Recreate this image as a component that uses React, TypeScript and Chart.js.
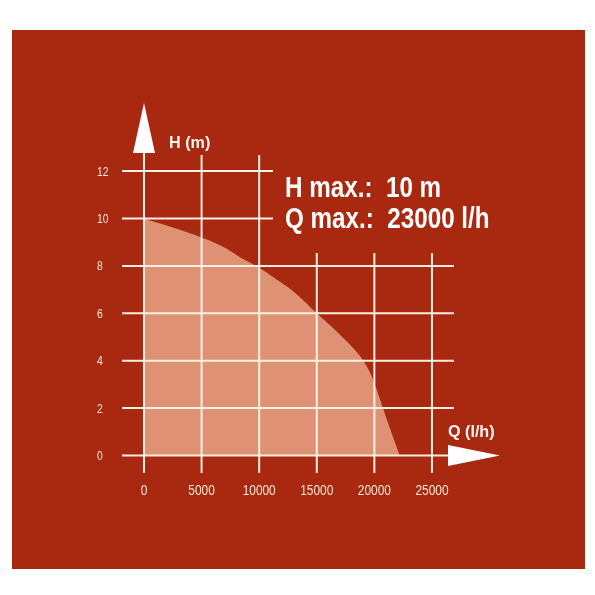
import React, { useEffect, useRef } from "react";
import { Chart, registerables } from "chart.js";

Chart.register(...registerables);

const flowLh = [0, 2500, 5000, 6900, 8300, 9900, 11500, 12700, 13500, 15000, 16400, 17900, 19000, 19800, 20500, 21100, 22200];
const headM = [10, 9.62, 9.2, 8.8, 8.38, 7.95, 7.43, 7.03, 6.7, 6.0, 5.38, 4.66, 4.03, 3.3, 2.35, 1.5, 0];
const xTicks = [0, 5000, 10000, 15000, 20000, 25000];
const yTicks = [0, 2, 4, 6, 8, 10, 12];
const specLines = ["H max.:  10 m", "Q max.:  23000 l/h"];
const xAxisTitle = "Q (l/h)";
const yAxisTitle = "H (m)";

const BG = "#a8290f";
const FILL = "#de9273";
const GRID = "#fbeee2";
const LABEL = "#f6e6d6";
const SANS = '"Liberation Sans", Arial, sans-serif';

function drawNarrow(ctx: any, text: string, x: number, y: number, sx: number, align: string) {
  ctx.save();
  ctx.translate(x, y);
  ctx.scale(sx, 1);
  ctx.textAlign = align;
  ctx.fillText(text, 0, 0);
  ctx.restore();
}

const decor = {
  id: "decor",
  beforeDraw(chart: any) {
    const ctx = chart.ctx;
    ctx.save();
    ctx.fillStyle = "#ffffff";
    ctx.fillRect(0, 0, chart.width, chart.height);
    ctx.fillStyle = BG;
    ctx.fillRect(12, 30, 573, 539);
    ctx.restore();
  },
  afterDatasetsDraw(chart: any) {
    const ctx = chart.ctx;
    const xs = chart.scales.x;
    const ys = chart.scales.y;
    const X = (v: number) => xs.getPixelForValue(v);
    const Y = (v: number) => ys.getPixelForValue(v);
    ctx.save();
    ctx.strokeStyle = GRID;
    ctx.lineWidth = 2;
    // horizontal grid lines
    ys.ticks.forEach((t: any) => {
      const v = t.value;
      const x1 = X(-1910);
      const x2 = v >= 10 ? X(11200) : X(26900);
      ctx.beginPath();
      ctx.moveTo(x1, Y(v));
      ctx.lineTo(x2, Y(v));
      ctx.stroke();
    });
    // vertical grid lines
    xs.ticks.forEach((t: any) => {
      const v = t.value;
      const top = v === 0 ? Y(12.76) : v <= 10000 ? Y(12.68) : Y(8.54);
      ctx.beginPath();
      ctx.moveTo(X(v), top);
      ctx.lineTo(X(v), Y(-0.74));
      ctx.stroke();
    });
    // arrows
    ctx.fillStyle = "#ffffff";
    const ax = X(0);
    ctx.beginPath();
    ctx.moveTo(ax, Y(14.87));
    ctx.lineTo(ax + 11, Y(12.76));
    ctx.lineTo(ax - 11, Y(12.76));
    ctx.closePath();
    ctx.fill();
    const ay = Y(0);
    ctx.beginPath();
    ctx.moveTo(X(30900), ay);
    ctx.lineTo(X(26390), ay - 10.5);
    ctx.lineTo(X(26390), ay + 10.5);
    ctx.closePath();
    ctx.fill();
    // tick labels
    ctx.fillStyle = LABEL;
    ctx.textBaseline = "alphabetic";
    ctx.font = "14px " + SANS;
    xs.ticks.forEach((t: any) => {
      drawNarrow(ctx, String(t.value), X(t.value), 495, 0.85, "center");
    });
    ctx.font = "13px " + SANS;
    ys.ticks.forEach((t: any) => {
      drawNarrow(ctx, String(t.value), 97, Y(t.value) + 4.5, 0.8, "left");
    });
    // axis titles
    ctx.fillStyle = "#fff6ee";
    ctx.font = "bold 17px " + SANS;
    drawNarrow(ctx, yAxisTitle, X(2170), Y(12.97), 0.95, "left");
    drawNarrow(ctx, xAxisTitle, X(26390), Y(0.78), 0.95, "left");
    // spec text
    ctx.fillStyle = "#ffffff";
    ctx.font = "bold 29px " + SANS;
    drawNarrow(ctx, specLines[0], X(12240), Y(10.9), 0.835, "left");
    drawNarrow(ctx, specLines[1], X(12240), Y(9.6), 0.835, "left");
    ctx.restore();
  },
};

export default function App() {
  const ref = useRef<HTMLCanvasElement | null>(null);
  useEffect(() => {
    if (!ref.current) return;
    const chart = new Chart(ref.current, {
      type: "line",
      data: {
        datasets: [
          {
            data: flowLh.map((q, i) => ({ x: q, y: headM[i] })),
            borderWidth: 0,
            borderColor: FILL,
            backgroundColor: FILL,
            fill: "origin",
            pointRadius: 0,
            tension: 0.4,
          },
        ],
      },
      options: {
        animation: false,
        responsive: false,
        maintainAspectRatio: false,
        layout: { padding: { left: 97, right: 140, top: 155, bottom: 0 } },
        plugins: { legend: { display: false }, tooltip: { enabled: false } },
        scales: {
          x: {
            type: "linear",
            min: -1910,
            max: 27000,
            grid: { display: false, drawTicks: false },
            border: { display: false },
            afterBuildTicks: (s: any) => {
              s.ticks = xTicks.map((v) => ({ value: v }));
            },
            afterFit: (s: any) => {
              s.height = 122;
            },
            ticks: { display: false, autoSkip: false, maxRotation: 0 },
          },
          y: {
            type: "linear",
            min: -0.74,
            max: 12.68,
            grid: { display: false, drawTicks: false },
            border: { display: false },
            afterBuildTicks: (s: any) => {
              s.ticks = yTicks.map((v) => ({ value: v }));
            },
            afterFit: (s: any) => {
              s.width = 25;
            },
            ticks: { display: false, autoSkip: false },
          },
        },
      },
      plugins: [decor],
    });
    return () => chart.destroy();
  }, []);
  return (
    <div style={{ position: "fixed", left: 0, top: 0, width: 595, height: 595 }}>
      <canvas ref={ref} width={595} height={595} style={{ display: "block" }} />
    </div>
  );
}
